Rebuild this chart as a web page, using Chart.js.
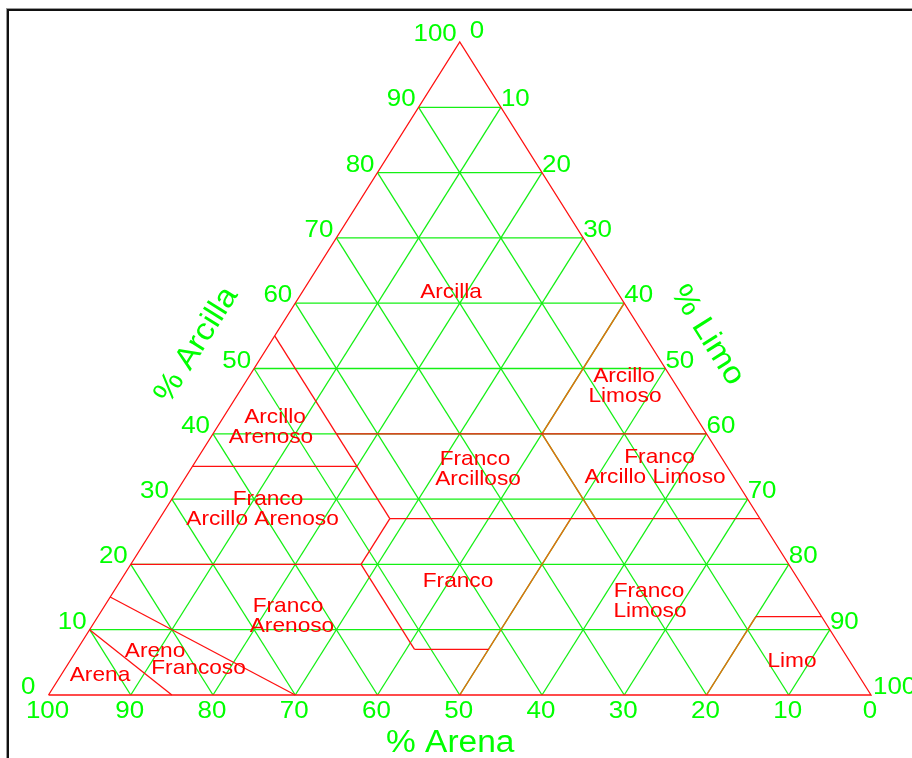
<!DOCTYPE html>
<html>
<head>
<meta charset="utf-8">
<script src="https://cdn.jsdelivr.net/npm/chart.js@4.4.1/dist/chart.umd.min.js"></script>
<style>
  html, body { margin: 0; padding: 0; background: #ffffff; }
  #wrap { position: relative; width: 912px; height: 758px; }
</style>
</head>
<body>
<div id="wrap"><canvas id="c"></canvas></div>
<script>
// Soil texture triangle (USDA classes, Spanish names).
// Every point is [silt %, clay %]; sand = 100 - silt - clay.
const tickValues = [0, 10, 20, 30, 40, 50, 60, 70, 80, 90, 100];
const gridSteps = [10, 20, 30, 40, 50, 60, 70, 80, 90];

const outline = [[0, 0], [100, 0], [0, 100], [0, 0]];

// class boundaries drawn in red
const redBoundaries = [
  [[0, 55], [28, 27]],   // sand 45 (arcillo arenoso / franco arcilloso)
  [[15, 40], [60, 40]],  // clay 40
  [[0, 35], [20, 35]],   // clay 35
  [[28, 27], [73, 27]],  // clay 27
  [[28, 27], [28, 20]],  // silt 28
  [[0, 20], [28, 20]],   // clay 20
  [[28, 20], [41, 7]],   // sand 52
  [[41, 7], [50, 7]],    // clay 7
  [[0, 10], [15, 0]],    // arena limit
  [[0, 15], [30, 0]],    // areno francoso limit
  [[80, 12], [88, 12]]   // clay 12 (limo)
];

// class boundaries drawn in orange
const orangeBoundaries = [
  [[40, 60], [40, 40]],  // silt 40
  [[40, 40], [53, 27]],  // sand 20
  [[50, 0], [50, 27]],   // silt 50
  [[80, 0], [80, 12]]    // silt 80
];

// texture class names, one entry per text line
const classLines = [
  'Arcilla',
  'Arcillo', 'Arenoso',
  'Franco', 'Arcillo Arenoso',
  'Arcillo', 'Limoso',
  'Franco', 'Arcillo Limoso',
  'Franco', 'Arcilloso',
  'Franco',
  'Franco', 'Limoso',
  'Franco', 'Arenoso',
  'Areno', 'Francoso',
  'Arena',
  'Limo'
];
// where each line sits, in the chart's x/y space (centre, baseline)
const classLineAnchors = [
  [48.94, 60.80],
  [27.54, 41.65], [27.05, 38.59],
  [26.69, 29.10], [26.02, 26.03],
  [69.97, 47.93], [70.09, 44.87],
  [74.29, 35.53], [73.74, 32.47],
  [51.85, 35.22], [52.22, 32.16],
  [49.79, 16.54],
  [73.01, 15.01], [73.13, 11.94],
  [29.12, 12.71], [29.60, 9.65],
  [12.95, 5.82], [18.24, 3.22],
  [6.26, 2.14],
  [90.40, 4.29]
];

const axisTitles = { sand: '% Arena', clay: '% Arcilla', silt: '% Limo' };

const GREEN = '#00ff00';
const GRID = 'rgb(20,240,20)';
const RED = '#ff1010';
const ORANGE = 'rgb(232,104,16)';

// ternary [silt, clay] -> chart x/y
function toXY(p) { return { x: p[0] + p[1] / 2, y: p[1] }; }

const datasets = [];
function addLine(points, color, order, width) {
  datasets.push({
    data: points.map(toXY),
    showLine: true,
    borderColor: color,
    borderWidth: width,
    pointRadius: 0,
    pointHoverRadius: 0,
    clip: false,
    order: order
  });
}

// green grid: lines of constant clay, sand and silt
gridSteps.forEach(v => {
  addLine([[0, v], [100 - v, v]], GRID, 3, 1.3);
  addLine([[100 - v, 0], [0, 100 - v]], GRID, 3, 1.3);
  addLine([[v, 0], [v, 100 - v]], GRID, 3, 1.3);
});
orangeBoundaries.forEach(seg => addLine(seg, ORANGE, 2, 1.4));
redBoundaries.forEach(seg => addLine(seg, RED, 1, 1.3));
addLine(outline, RED, 0, 1.3);

const SX = 1.08; // horizontal stretch of the lettering

const textPlugin = {
  id: 'triangleText',
  beforeDraw(chart) {
    const ctx = chart.ctx;
    ctx.save();
    ctx.fillStyle = '#ffffff';
    ctx.fillRect(0, 0, chart.width, chart.height);
    // window frame
    ctx.fillStyle = '#9a9a9a';
    ctx.fillRect(6, 8, chart.width, 1);
    ctx.fillRect(6, 8, 1, chart.height);
    ctx.fillStyle = '#111111';
    ctx.fillRect(7, 9, chart.width, 2);
    ctx.fillRect(7, 9, 2, chart.height);
    ctx.restore();
  },
  afterDatasetsDraw(chart) {
    const ctx = chart.ctx;
    const xs = chart.scales.x, ys = chart.scales.y;
    const P = (silt, clay) => [xs.getPixelForValue(silt + clay / 2), ys.getPixelForValue(clay)];

    function text(str, px, py, font, color, align, baseline, rot) {
      ctx.save();
      ctx.translate(px, py);
      if (rot) ctx.rotate(rot);
      ctx.scale(SX, 1);
      ctx.font = font;
      ctx.fillStyle = color;
      ctx.textAlign = align;
      ctx.textBaseline = baseline;
      ctx.fillText(str, 0, 0);
      ctx.restore();
    }

    const tickFont = '24px "Liberation Sans", Arial, sans-serif';
    const classFont = '21px "Liberation Sans", Arial, sans-serif';
    const titleFont = '31px "Liberation Sans", Arial, sans-serif';

    // clay ticks along the left side
    tickValues.forEach(c => {
      const [px, py] = P(0, c);
      text(String(c), px - 3 - (c === 0 ? 10 : 0), py - 1, tickFont, GREEN, 'right', 'alphabetic');
    });
    // silt ticks along the right side
    tickValues.forEach(s => {
      const [px, py] = P(s, 100 - s);
      const dx = s === 0 ? 10 : (s === 100 ? 2 : 0);
      const dy = s === 0 ? -3 : 0;
      text(String(s), px + dx, py - 1 + dy, tickFont, GREEN, 'left', 'alphabetic');
    });
    // sand ticks along the bottom
    tickValues.forEach(a => {
      const [px, py] = P(100 - a, 0);
      text(String(a), px - 1, py + 23, tickFont, GREEN, 'center', 'alphabetic');
    });

    // axis titles
    const bl = P(0, 0), br = P(100, 0), top = P(0, 100);
    const leftAngle = Math.atan2(top[1] - bl[1], top[0] - bl[0]);
    const rightAngle = Math.atan2(br[1] - top[1], br[0] - top[0]);
    text(axisTitles.sand, xs.getPixelForValue(48.84), ys.bottom + 57, titleFont, GREEN, 'center', 'alphabetic');
    text(axisTitles.clay, xs.getPixelForValue(18.0), ys.getPixelForValue(53.6), titleFont, GREEN, 'center', 'middle', leftAngle);
    text(axisTitles.silt, xs.getPixelForValue(80.1), ys.getPixelForValue(55.1), titleFont, GREEN, 'center', 'middle', rightAngle);

    // texture class names
    classLines.forEach((t, i) => {
      const a = classLineAnchors[i];
      text(t, xs.getPixelForValue(a[0]), ys.getPixelForValue(a[1]), classFont, '#ff0000', 'center', 'alphabetic');
    });
  }
};

new Chart(document.getElementById('c'), {
  type: 'scatter',
  data: { datasets: datasets },
  options: {
    responsive: true,
    maintainAspectRatio: false,
    animation: false,
    events: [],
    layout: { padding: { left: 48.5, right: 41, top: 42, bottom: 63 } },
    scales: {
      x: { type: 'linear', min: 0, max: 100, display: false },
      y: { type: 'linear', min: 0, max: 100, display: false }
    },
    plugins: { legend: { display: false }, tooltip: { enabled: false } }
  },
  plugins: [textPlugin]
});
</script>
</body>
</html>
